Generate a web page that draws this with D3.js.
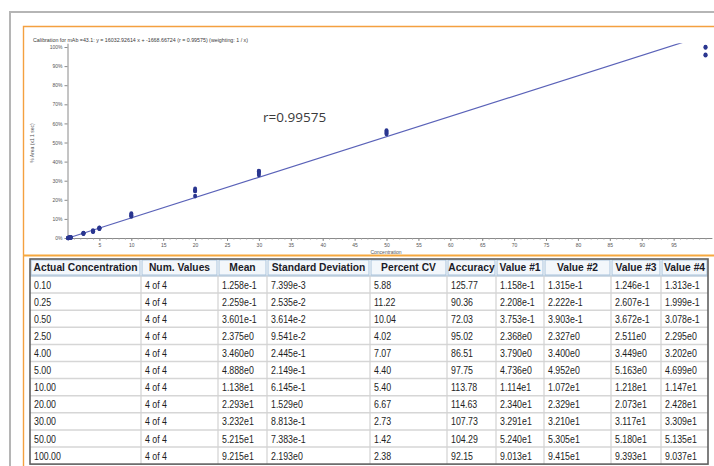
<!DOCTYPE html>
<html>
<head>
<meta charset="utf-8">
<script src="https://cdn.jsdelivr.net/npm/d3@7"></script>
<style>
  html, body { margin: 0; padding: 0; background: #fff; }
  svg { display: block; }
</style>
</head>
<body>
<script>
// ---------------- DATA ----------------
const concentrations = [0.10, 0.25, 0.50, 2.50, 4.00, 5.00, 10.00, 20.00, 30.00, 50.00, 100.00];
const numValues = ["4 of 4","4 of 4","4 of 4","4 of 4","4 of 4","4 of 4","4 of 4","4 of 4","4 of 4","4 of 4","4 of 4"];
const meanValues = [0.1258, 0.2259, 0.3601, 2.375, 3.460, 4.888, 11.38, 22.93, 32.32, 52.15, 92.15];
const stdDevs = [0.007399, 0.02535, 0.03614, 0.09541, 0.2445, 0.2149, 0.6145, 1.529, 0.8813, 0.7383, 2.193];
const percentCV = [5.88, 11.22, 10.04, 4.02, 7.07, 4.40, 5.40, 6.67, 2.73, 1.42, 2.38];
const accuracy = [125.77, 90.36, 72.03, 95.02, 86.51, 97.75, 113.78, 114.63, 107.73, 104.29, 92.15];
const value1 = [0.1158, 0.2208, 0.3753, 2.368, 3.790, 4.736, 11.14, 23.40, 32.91, 52.40, 90.13];
const value2 = [0.1315, 0.2222, 0.3903, 2.327, 3.400, 4.952, 10.72, 23.29, 32.10, 53.05, 94.15];
const value3 = [0.1246, 0.2607, 0.3672, 2.511, 3.449, 5.163, 12.18, 20.73, 31.17, 51.80, 93.93];
const value4 = [0.1313, 0.1999, 0.3078, 2.295, 3.202, 4.699, 11.47, 24.28, 33.09, 51.35, 90.37];
const headers = ["Actual Concentration","Num. Values","Mean","Standard Deviation","Percent CV","Accuracy","Value #1","Value #2","Value #3","Value #4"];
const yTickValues = [0,10,20,30,40,50,60,70,80,90,100];
const xTickLabels = [5,10,15,20,25,30,35,40,45,50,55,60,65,70,75,80,85,90,95];
const fitSlope = 16032.92614;
const fitIntercept = -1668.66724;
const rValue = "0.99575";
const chartTitle = "Calibration for mAb =43.1: y = 16032.92614 x + -1668.66724 (r = 0.99575) (weighting: 1 / x)";
const yAxisTitle = "% Area (x1 1 sec)";
const xAxisTitle = "Concentration";

// ---------------- LAYOUT ----------------
const W = 714, H = 466;
const svg = d3.select("body").append("svg").attr("width", W).attr("height", H);
svg.append("rect").attr("width", W).attr("height", H).attr("fill", "#fff");

// frames
svg.append("path").attr("d", "M10,466V12H714").attr("fill", "none").attr("stroke", "#b5b5b5").attr("stroke-width", 2);
svg.append("path").attr("d", "M23.5,466V26.5H714").attr("fill", "none").attr("stroke", "#f4a040").attr("stroke-width", 1.4);
svg.append("line").attr("x1", 23).attr("x2", 714).attr("y1", 255.5).attr("y2", 255.5).attr("stroke", "#f6a83e").attr("stroke-width", 2);

// ---------------- CHART ----------------
const x = d3.scaleLinear().domain([0, 101]).range([67.5, 711.9]);
const y = d3.scaleLinear().domain([0, 102]).range([238, 43.2]);

// convert concentration values to % of maximum response using the displayed fit
const allVals = [].concat(value1, value2, value3, value4);
const maxResp = fitSlope * d3.max(allVals) + fitIntercept;
const pct = v => (fitSlope * v + fitIntercept) / maxResp * 100;

const chartFont = "'Liberation Sans', Arial, sans-serif";

svg.append("text").attr("x", 33).attr("y", 42)
  .attr("font-family", chartFont).attr("font-size", 4.8).attr("fill", "#3a3a3a")
  .attr("textLength", 215).attr("lengthAdjust", "spacingAndGlyphs")
  .text(chartTitle);

// y axis
const yAxis = svg.append("g").attr("transform", "translate(67.5,0)")
  .call(d3.axisLeft(y).tickValues(yTickValues).tickFormat(d => d + "%").tickSize(3).tickSizeOuter(0).tickPadding(2));
yAxis.select(".domain").attr("stroke", "#8a8a8a");
yAxis.selectAll(".tick line").attr("stroke", "#8a8a8a");
yAxis.selectAll(".tick text").attr("font-family", chartFont).attr("font-size", 5).attr("fill", "#555");

// x axis
const xAxis = svg.append("g").attr("transform", "translate(0,238)")
  .call(d3.axisBottom(x).tickValues(d3.range(0, 101, 1)).tickFormat("").tickSize(1.5).tickSizeOuter(0));
xAxis.select(".domain").attr("stroke", "#8a8a8a");
xAxis.selectAll(".tick line").attr("stroke", "#9a9a9a");
const xAxisMajor = svg.append("g").attr("transform", "translate(0,238)")
  .call(d3.axisBottom(x).tickValues(xTickLabels).tickFormat(d => d).tickSize(3).tickSizeOuter(0).tickPadding(2.5));
xAxisMajor.select(".domain").remove();
xAxisMajor.selectAll(".tick line").attr("stroke", "#8a8a8a");
xAxisMajor.selectAll(".tick text").attr("font-family", chartFont).attr("font-size", 5).attr("fill", "#555");

svg.append("text").attr("x", 386).attr("y", 253.5).attr("text-anchor", "middle")
  .attr("font-family", chartFont).attr("font-size", 5).attr("fill", "#555").text(xAxisTitle);
svg.append("text").attr("transform", "translate(34,143) rotate(-90)").attr("text-anchor", "middle")
  .attr("font-family", chartFont).attr("font-size", 5).attr("fill", "#555").text(yAxisTitle);

// clip for plot area
svg.append("clipPath").attr("id", "plotclip").append("rect")
  .attr("x", x(0)).attr("y", y(102)).attr("width", x(101) - x(0)).attr("height", y(0) - y(102) + 2);

// regression line
const lineData = [0, 100].map(c => ({ c, p: pct(c) }));
svg.append("path").datum(lineData)
  .attr("clip-path", "url(#plotclip)")
  .attr("d", d3.line().x(d => x(d.c)).y(d => y(d.p)))
  .attr("fill", "none").attr("stroke", "#5a62b8").attr("stroke-width", 1.2);

// points
const pts = [];
concentrations.forEach((c, i) => {
  [value1, value2, value3, value4].forEach(arr => pts.push({ c, v: arr[i] }));
});
svg.append("g").selectAll("ellipse").data(pts).join("ellipse")
  .attr("cx", d => x(d.c)).attr("cy", d => y(pct(d.v)))
  .attr("rx", 2).attr("ry", 2.3)
  .attr("fill", "#2a3690");

svg.append("text").attr("x", 263).attr("y", 122)
  .attr("font-family", "'Open Sans', 'Noto Sans', sans-serif").attr("font-size", 13.5).attr("fill", "#3a3a3a")
  .text("r=" + rValue);

// ---------------- TABLE ----------------
const colEdges = [30, 141, 218, 267, 370, 447, 496, 544, 611, 661, 708];
const tableTop = 259, headerH = 17, rowH = 17.1;
const tableBottom = tableTop + headerH + rowH * concentrations.length;
const expFmt = v => v.toExponential(3).replace("e+", "e");
const rows = concentrations.map((c, i) => [
  c.toFixed(2), numValues[i], expFmt(meanValues[i]), expFmt(stdDevs[i]),
  percentCV[i].toFixed(2), accuracy[i].toFixed(2),
  expFmt(value1[i]), expFmt(value2[i]), expFmt(value3[i]), expFmt(value4[i])
]);

const tFont = "'Liberation Sans', Arial, sans-serif";
const tbl = svg.append("g");
tbl.append("rect").attr("x", colEdges[0]).attr("y", tableTop)
  .attr("width", colEdges[colEdges.length - 1] - colEdges[0]).attr("height", tableBottom - tableTop)
  .attr("fill", "#fff");

// header cells
tbl.selectAll("rect.hdr").data(headers).join("rect").attr("class", "hdr")
  .attr("x", (d, i) => colEdges[i] + 1).attr("y", tableTop + 1)
  .attr("width", (d, i) => colEdges[i + 1] - colEdges[i] - 2).attr("height", headerH - 2)
  .attr("fill", "#f3f7fb").attr("stroke", "#a9c3dc").attr("stroke-width", 1);
tbl.selectAll("text.hdr").data(headers).join("text").attr("class", "hdr")
  .attr("transform", (d, i) => `translate(${(colEdges[i] + colEdges[i + 1]) / 2},${tableTop + 12.4}) scale(0.97,1)`)
  .attr("text-anchor", "middle")
  .attr("font-family", tFont).attr("font-weight", "bold").attr("font-size", 10.6).attr("fill", "#1b1b28")
  .text(d => d);

// row lines
tbl.selectAll("line.row").data(d3.range(1, concentrations.length)).join("line").attr("class", "row")
  .attr("x1", colEdges[0]).attr("x2", colEdges[colEdges.length - 1])
  .attr("y1", d => tableTop + headerH + d * rowH).attr("y2", d => tableTop + headerH + d * rowH)
  .attr("stroke", "#d6d6d6").attr("stroke-width", 1.5);
tbl.append("line").attr("x1", colEdges[0]).attr("x2", colEdges[colEdges.length - 1])
  .attr("y1", tableTop + headerH).attr("y2", tableTop + headerH).attr("stroke", "#9fb6cc").attr("stroke-width", 1);
// column lines
tbl.selectAll("line.col").data(colEdges.slice(1, -1)).join("line").attr("class", "col")
  .attr("x1", d => d).attr("x2", d => d)
  .attr("y1", tableTop + headerH).attr("y2", tableBottom)
  .attr("stroke", "#d2d2d2").attr("stroke-width", 1.2);

// cell text
const rowG = tbl.selectAll("g.r").data(rows).join("g").attr("class", "r")
  .attr("transform", (d, i) => `translate(0,${tableTop + headerH + i * rowH + 12.6})`);
rowG.selectAll("text").data(d => d).join("text")
  .attr("transform", (d, j) => `translate(${colEdges[j] + 4},0) scale(0.8,1)`)
  .attr("font-family", tFont).attr("font-size", 11).attr("fill", "#1e1e1e")
  .text(d => d);

// outer border
tbl.append("rect").attr("x", colEdges[0]).attr("y", tableTop)
  .attr("width", colEdges[colEdges.length - 1] - colEdges[0]).attr("height", tableBottom - tableTop)
  .attr("fill", "none").attr("stroke", "#5f5f5f").attr("stroke-width", 1.6);
</script>
</body>
</html>
